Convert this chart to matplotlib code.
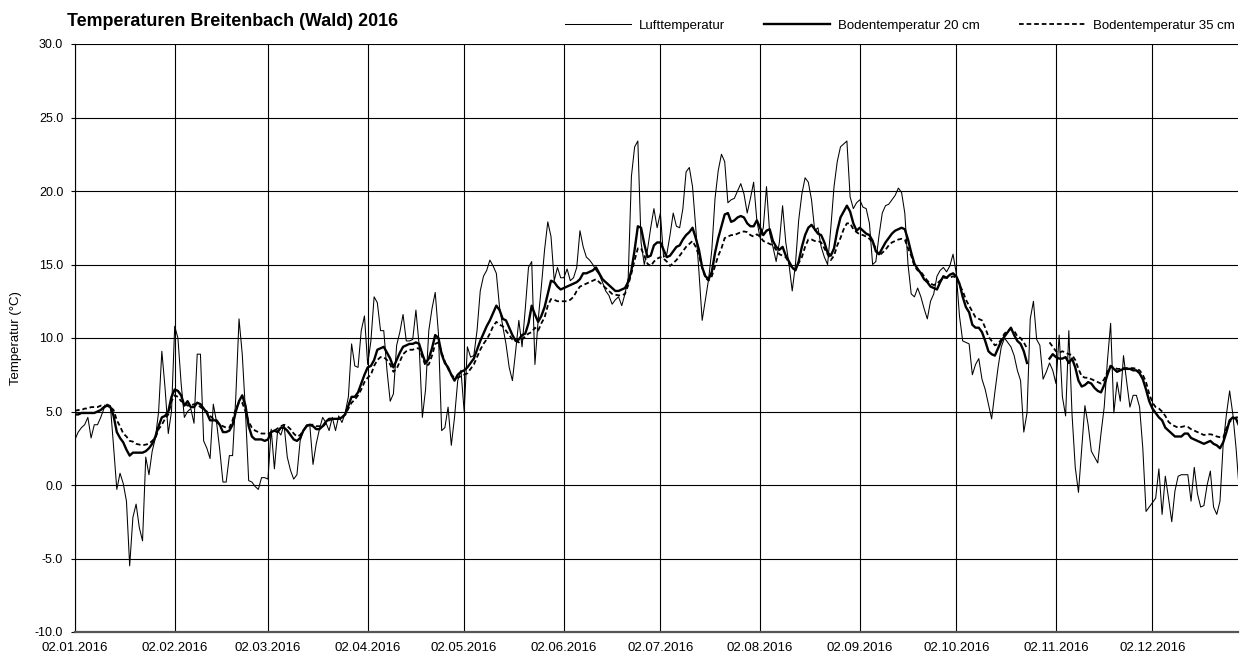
import numpy as np
import pandas as pd
import matplotlib
matplotlib.use("Agg")
import matplotlib.pyplot as plt

plt.rcParams['font.family'] = ['Liberation Sans', 'DejaVu Sans']

nan = np.nan
start_date = "2016-01-02"

luft = [
    3.1, 3.6, 3.9, 4.1, 4.6, 3.2, 4.1, 4.1, 4.6, 5.2,
    5.5, 5.4, 2.6, -0.3, 0.8, 0.1, -1.1, -5.5, -2.2, -1.3,
    -2.9, -3.8, 1.9, 0.7, 2.3, 3.2, 5.0, 9.1, 6.6, 3.5,
    5.0, 10.8, 10.0, 6.9, 4.6, 5.0, 5.2, 4.2, 8.9, 8.9,
    3.0, 2.5, 1.8, 5.5, 4.3, 2.4, 0.2, 0.2, 2.0, 2.0,
    6.0, 11.3, 8.9, 5.0, 0.3, 0.2, -0.1, -0.3, 0.5, 0.5,
    0.4, 3.8, 1.1, 3.7, 3.4, 4.1, 1.9, 1.0, 0.4, 0.7,
    3.0, 3.7, 4.1, 4.1, 1.4, 2.8, 3.8, 4.6, 4.25, 3.7,
    4.6, 3.7, 4.7, 4.25, 4.9, 6.0, 9.6, 8.1, 8.0, 10.5,
    11.5, 8.2, 9.8, 12.8, 12.4, 10.5, 10.5, 7.8, 5.7, 6.2,
    9.5, 10.4, 11.6, 9.8, 9.8, 9.9, 11.9, 9.5, 4.6, 6.5,
    10.5, 12.0, 13.1, 10.3, 3.7, 3.9, 5.3, 2.7, 4.6, 7.1,
    7.8, 5.0, 9.4, 8.7, 8.8, 10.5, 13.2, 14.2, 14.6, 15.3,
    14.9, 14.4, 12.1, 10.8, 9.6, 8.0, 7.1, 9.1, 11.2, 9.4,
    12.0, 14.8, 15.2, 8.2, 11.2, 13.5, 16.0, 17.9, 16.9, 13.9,
    14.8, 14.1, 14.1, 14.7, 13.9, 14.1, 14.8, 17.3, 16.2, 15.5,
    15.3, 15.0, 14.6, 14.3, 13.8, 13.2, 12.9, 12.3, 12.6, 12.8,
    12.2, 13.0, 14.1, 21.0, 23.0, 23.4, 16.5, 15.0, 16.0, 17.5,
    18.8, 17.5, 18.5, 15.5, 15.7, 17.0, 18.5, 17.6, 17.5, 18.8,
    21.3, 21.6, 20.3, 17.5, 14.5, 11.2, 12.6, 14.0, 16.0, 19.5,
    21.4, 22.5, 22.0, 19.2, 19.4, 19.5, 20.0, 20.5, 19.8, 18.5,
    19.5, 20.6, 18.0, 16.8, 17.5, 20.3, 17.1, 16.2, 15.2, 16.5,
    19.0, 16.5, 15.0, 13.2, 15.0, 18.0, 19.8, 20.9, 20.6, 19.4,
    17.3, 17.5, 16.2, 15.5, 15.0, 17.5, 20.3, 22.0, 23.0, 23.2,
    23.4, 19.6, 18.8, 19.2, 19.4, 18.9, 18.8, 17.8, 15.0, 15.2,
    17.0, 18.5, 19.0, 19.1, 19.4, 19.7, 20.2, 19.9, 18.5, 15.0,
    13.0, 12.8, 13.4, 12.8, 12.0, 11.3, 12.5, 13.0, 14.2, 14.6,
    14.8, 14.5, 14.9, 15.7, 14.4, 11.5, 9.8, 9.7, 9.6, 7.5,
    8.2, 8.6, 7.2, 6.5, 5.5, 4.5, 6.3, 8.0, 9.4, 10.0,
    9.7, 9.4, 8.8, 7.8, 7.1, 3.6, 4.9, 11.3, 12.5, 9.9,
    9.5, 7.2, 7.7, 8.3, 7.8, 6.9, 10.2, 6.0, 4.7, 10.5,
    4.8, 1.2, -0.5, 2.5, 5.4, 4.1, 2.3, 1.9, 1.5, 3.5,
    5.3, 8.45, 11.0, 4.9, 7.0, 5.7, 8.8, 7.0, 5.3, 6.1,
    6.1, 5.3, 2.5, -1.8, -1.5, -1.2, -0.9, 1.1, -2.0, 0.6,
    -0.9, -2.5, -0.4, 0.6, 0.7, 0.7, 0.7, -1.1, 1.2, -0.6,
    -1.5, -1.4, 0.0, 0.95, -1.5, -2.0, -1.1, 2.8, 4.8, 6.4,
    4.8, 2.5, -0.4,
]

boden20 = [
    4.8, 4.8, 4.9, 4.9, 4.9, 4.9, 4.9, 5.0, 5.1, 5.3,
    5.4, 5.3, 4.7, 3.6, 3.2, 2.9, 2.4, 2.0, 2.2, 2.2,
    2.2, 2.2, 2.3, 2.5, 2.8, 3.3, 4.0, 4.6, 4.7, 5.0,
    6.0, 6.5, 6.4, 6.1, 5.4, 5.7, 5.3, 5.3, 5.6, 5.5,
    5.2, 4.9, 4.4, 4.4, 4.4, 4.1, 3.6, 3.6, 3.7, 4.1,
    5.0, 5.7, 6.1, 5.4, 4.0, 3.3, 3.1, 3.1, 3.1, 3.0,
    3.1, 3.6, 3.7, 3.6, 3.9, 3.9, 3.7, 3.4, 3.1, 3.0,
    3.2, 3.7, 4.0, 4.1, 4.0, 3.8, 3.8, 4.0, 4.3, 4.5,
    4.5, 4.5, 4.5, 4.6, 4.8, 5.4, 6.0, 6.0, 6.3, 6.9,
    7.5, 8.0, 8.1, 8.5, 9.2, 9.3, 9.4, 9.0, 8.6, 8.0,
    8.5, 9.0, 9.4, 9.5, 9.6, 9.6, 9.7, 9.6, 8.9, 8.3,
    8.6, 9.3, 10.2, 10.0, 8.9, 8.3, 8.0, 7.5, 7.1, 7.5,
    7.7, 7.8, 8.0, 8.3, 8.6, 9.2, 9.8, 10.3, 10.8, 11.2,
    11.7, 12.2, 11.9, 11.3, 11.2, 10.7, 10.2, 9.8, 9.9, 10.2,
    10.3, 11.0, 12.2, 11.6, 11.1, 11.5, 12.1, 13.0, 13.9, 13.8,
    13.5, 13.3, 13.4, 13.5, 13.6, 13.7, 13.8, 14.0, 14.4, 14.4,
    14.5, 14.6, 14.8, 14.4, 14.0, 13.8, 13.6, 13.4, 13.2, 13.2,
    13.3, 13.4, 13.8, 14.6, 16.0, 17.6, 17.5, 16.4, 15.5, 15.6,
    16.3, 16.5, 16.5, 16.0, 15.5, 15.6, 15.9, 16.2, 16.3, 16.7,
    17.0, 17.2, 17.5, 16.8, 16.0, 14.8, 14.2, 14.0, 14.5, 15.8,
    16.8, 17.6, 18.4, 18.5, 17.9, 18.0, 18.2, 18.3, 18.2, 17.8,
    17.6, 17.6, 18.0, 17.5, 17.0, 17.3, 17.4, 16.6, 16.2, 16.0,
    16.2, 15.6, 15.2, 14.8, 14.6, 15.2, 16.2, 17.0, 17.5, 17.7,
    17.4, 17.1, 17.0, 16.5, 15.8, 15.6, 16.1, 17.3, 18.2, 18.6,
    19.0, 18.6, 17.8, 17.3, 17.5, 17.3, 17.1, 17.0, 16.6, 15.9,
    15.7, 16.1, 16.5, 16.8, 17.1, 17.3, 17.4, 17.5, 17.4, 16.7,
    15.8, 15.05, 14.7, 14.4, 14.0, 13.8, 13.5, 13.4, 13.3, 13.8,
    14.2, 14.1, 14.3, 14.4, 14.2, 13.7, 12.8, 12.1, 11.75, 10.9,
    10.7, 10.7, 10.4, 9.8, 9.1, 8.9, 8.8, 9.3, 9.8, 10.1,
    10.4, 10.7, 10.2, 9.8, 9.6, 9.1, 8.3, nan, nan, nan,
    nan, nan, nan, 8.6, 8.9, 8.7, 8.6, 8.6, 8.7, 8.3,
    8.6, 8.0, 7.1, 6.7, 6.8, 7.0, 6.9, 6.6, 6.4, 6.3,
    6.8, 7.5, 8.1, 7.9, 7.7, 7.8, 7.9, 7.9, 7.9, 7.8,
    7.8, 7.6, 7.2, 6.5, 5.7, 5.2, 4.9, 4.6, 4.4, 3.9,
    3.7, 3.5, 3.3, 3.3, 3.3, 3.5, 3.5, 3.2, 3.1, 3.0,
    2.9, 2.8, 2.9, 3.0, 2.8, 2.7, 2.5, 2.9, 3.6, 4.4,
    4.6, 4.5, 4.0,
]

boden35 = [
    5.05, 5.1, 5.1, 5.2, 5.2, 5.3, 5.3, 5.3, 5.4, 5.4,
    5.4, 5.3, 5.1, 4.4, 4.0, 3.5, 3.3, 3.0, 2.95, 2.8,
    2.75, 2.7, 2.75, 2.8, 3.0, 3.2, 3.8, 4.1, 4.5, 4.8,
    5.7, 6.1, 6.0, 5.7, 5.6, 5.4, 5.4, 5.5, 5.5, 5.3,
    5.15, 5.0, 4.7, 4.5, 4.3, 4.1, 4.0, 3.9, 3.9, 4.4,
    5.2, 5.6, 5.6, 5.0, 4.3, 3.9, 3.7, 3.6, 3.5, 3.5,
    3.45, 3.6, 3.7, 3.85, 4.0, 4.1, 4.0, 3.8, 3.5, 3.3,
    3.4, 3.7, 4.0, 4.1, 4.1, 4.0, 4.0, 3.95, 4.2, 4.4,
    4.5, 4.5, 4.5, 4.6, 4.8, 5.2, 5.6, 5.8, 6.1, 6.5,
    7.0, 7.3, 7.5, 8.1, 8.5, 8.7, 8.7, 8.5, 8.2, 7.7,
    7.9, 8.4, 8.9, 9.1, 9.2, 9.2, 9.3, 9.3, 8.7, 8.1,
    8.2, 8.8, 9.6, 9.7, 9.0, 8.4, 7.9, 7.5, 7.3, 7.3,
    7.4, 7.5, 7.6, 7.9, 8.2, 8.7, 9.2, 9.6, 9.9, 10.3,
    10.8, 11.1, 10.9, 10.8, 10.5, 10.2, 9.9, 9.8, 9.7, 9.9,
    10.1, 10.3, 10.4, 10.7, 10.5, 11.0, 11.4, 12.2, 12.65, 12.6,
    12.5, 12.5, 12.5, 12.5, 12.6, 12.8, 13.2, 13.5, 13.6, 13.7,
    13.8, 13.9, 14.0, 13.8, 13.6, 13.4, 13.2, 13.0, 12.95, 12.9,
    12.9, 13.0, 13.6, 14.4, 15.3, 16.1, 16.1, 15.6, 15.05, 14.9,
    15.2, 15.4, 15.5, 15.4, 15.2, 14.9, 15.1, 15.3, 15.6, 15.9,
    16.2, 16.4, 16.6, 16.2, 15.6, 14.8, 14.1, 13.9, 14.2, 14.9,
    15.6, 16.1, 16.8, 16.9, 17.0, 17.0, 17.1, 17.2, 17.25, 17.2,
    17.0, 16.9, 17.05, 16.9, 16.6, 16.5, 16.4, 16.3, 16.0, 15.7,
    15.6, 15.5, 15.1, 14.7, 14.7, 15.1, 15.5, 16.2, 16.7, 16.7,
    16.6, 16.6, 16.5, 16.1, 15.7, 15.3, 15.6, 16.3, 16.8, 17.4,
    17.8, 17.8, 17.4, 17.2, 17.05, 17.0, 16.9, 16.75, 16.5, 16.1,
    15.6, 15.8, 16.0, 16.3, 16.5, 16.6, 16.7, 16.75, 16.7, 16.1,
    15.6, 14.9, 14.6, 14.5, 14.2, 13.9, 13.7, 13.6, 13.7, 13.9,
    14.1, 14.1, 14.1, 14.2, 14.1, 13.6, 13.2, 12.6, 12.2, 11.8,
    11.4, 11.3, 11.2, 10.7, 10.1, 9.8, 9.5, 9.6, 9.9, 10.3,
    10.5, 10.6, 10.5, 10.1, 10.0, 9.7, 9.3, nan, nan, nan,
    nan, nan, nan, 9.7, 9.4, 9.1, 9.0, 9.1, 9.0, 8.9,
    8.85, 8.5, 7.9, 7.4, 7.3, 7.3, 7.2, 7.1, 7.0, 6.9,
    7.2, 7.7, 8.1, 8.0, 7.9, 7.9, 7.95, 7.95, 7.95, 7.95,
    7.9, 7.8, 7.5, 7.0, 6.2, 5.6, 5.3, 5.2, 5.0, 4.7,
    4.3, 4.1, 4.0, 3.9, 3.95, 4.0, 3.95, 3.8, 3.7, 3.6,
    3.5, 3.4, 3.45, 3.45, 3.4, 3.3, 3.25, 3.2, 3.9, 4.3,
    4.5, 4.6, 4.6,
]

series_names = ["Lufttemperatur", "Bodentemperatur 20 cm", "Bodentemperatur 35 cm"]
title = "Temperaturen Breitenbach (Wald) 2016"
ylabel = "Temperatur (\u00b0C)"
tick_dates = ["2016-%02d-02" % m for m in range(1, 13)]
y_ticks = list(range(-10, 31, 5))

fig = plt.figure(figsize=(12.4, 6.57), dpi=100)
ax = fig.add_axes([75/1240, 25/657, 1163/1240, 588/657])

def dates_for(vals):
    return pd.date_range(start_date, periods=len(vals), freq="D")

ax.plot(dates_for(luft), luft, color="black", lw=0.75, label=series_names[0], zorder=3)
ax.plot(dates_for(boden20), boden20, color="black", lw=1.7, label=series_names[1], zorder=4)
ax.plot(dates_for(boden35), boden35, color="black", lw=1.3, dashes=(2.6, 1.6),
        label=series_names[2], zorder=4)

x0 = pd.Timestamp(start_date)
ax.set_xlim(x0, x0 + pd.Timedelta(days=361.6))
ax.set_ylim(-10, 30)

ax.set_yticks(y_ticks)
ax.set_yticklabels(["%.1f" % v for v in y_ticks], fontsize=9)
xt = [pd.Timestamp(d) for d in tick_dates]
ax.set_xticks(xt)
ax.set_xticklabels([t.strftime("%d.%m.%Y") for t in xt], fontsize=9.5)

ax.grid(True, color="black", lw=0.8)
ax.set_axisbelow(True)
for s in ["top", "right"]:
    ax.spines[s].set_visible(False)
ax.spines["left"].set_color("black")
ax.spines["left"].set_linewidth(0.8)
ax.spines["bottom"].set_color("#555555")
ax.spines["bottom"].set_linewidth(1.6)
ax.tick_params(axis="x", length=0, pad=7.5)
ax.tick_params(axis="y", length=3, width=0.8, color="black", pad=5.5)

ax.set_ylabel(ylabel, fontsize=9.5, labelpad=9)

fig.text(67/1240, 1 - 22/657, title, fontsize=12.9, fontweight="bold",
         ha="left", va="center")

leg = fig.legend(loc="center right", bbox_to_anchor=(1235/1240, 1 - 26/657),
                 ncol=3, frameon=False, fontsize=9.5, handlelength=5.0,
                 handletextpad=0.6, columnspacing=3.0, borderpad=0, borderaxespad=0)

fig.savefig("out.png", dpi=100)
